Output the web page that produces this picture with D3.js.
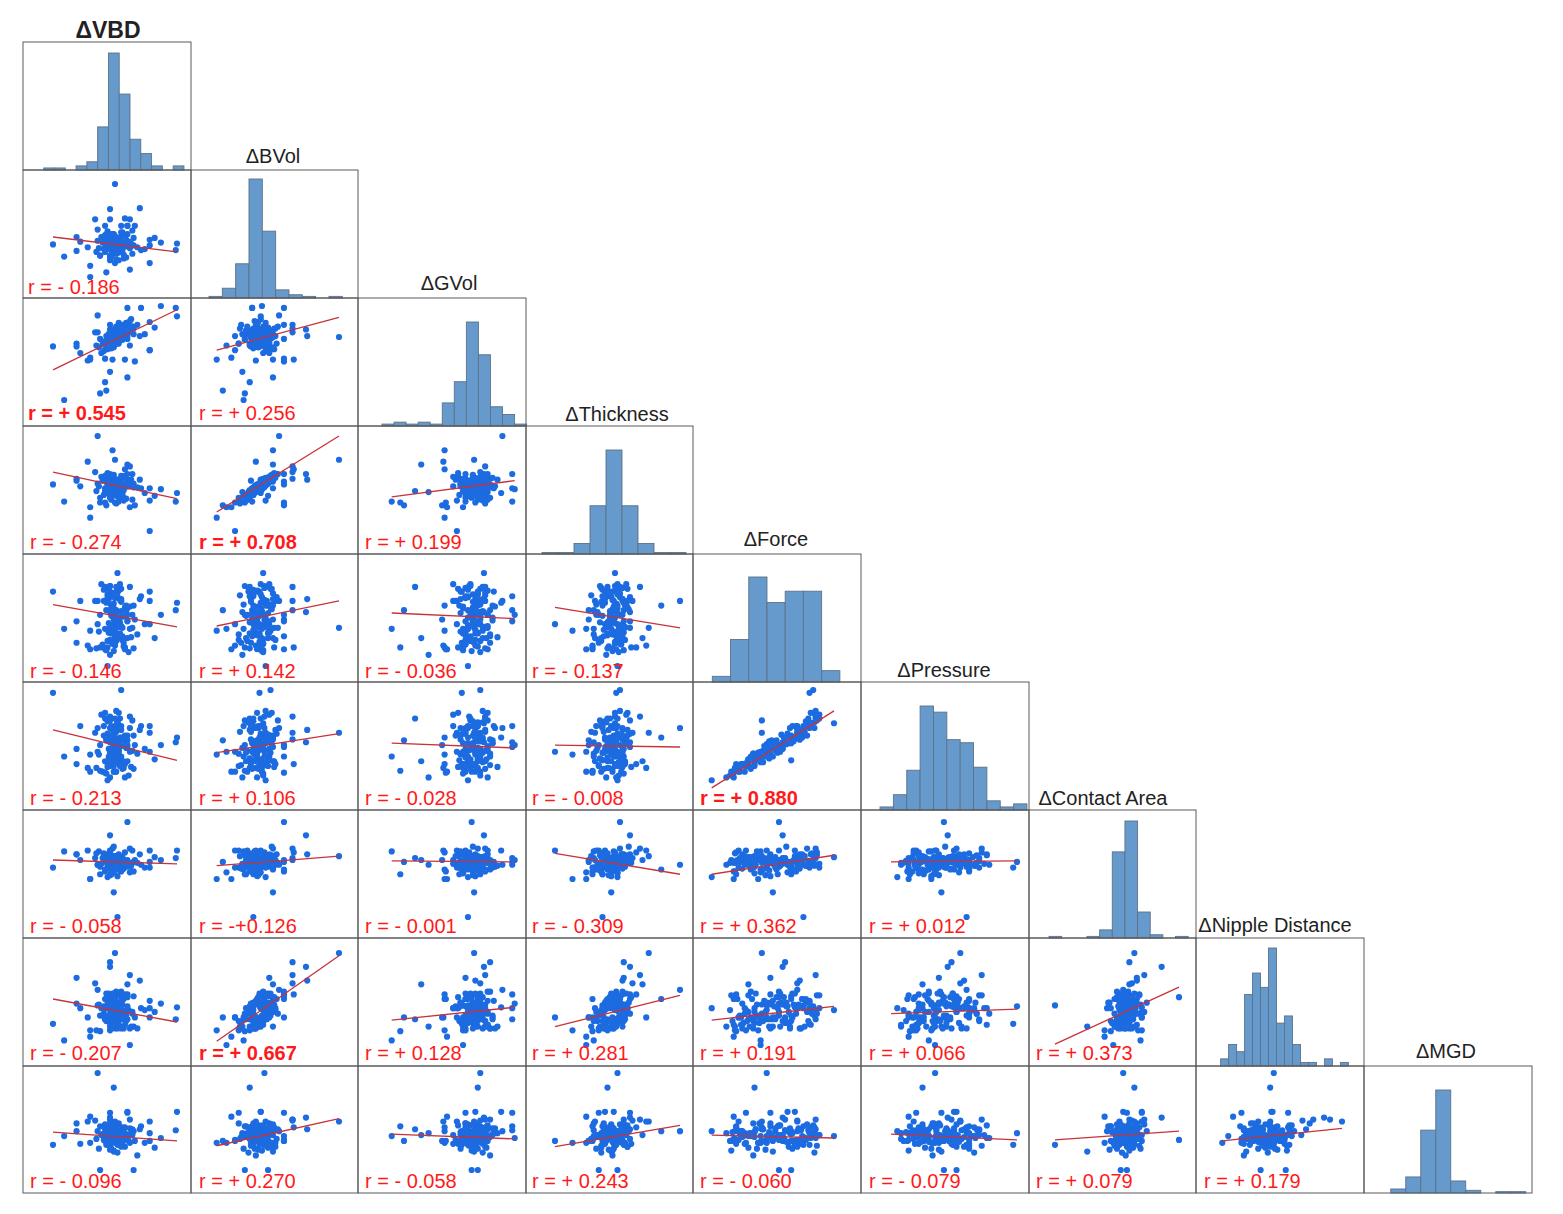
<!DOCTYPE html>
<html><head><meta charset="utf-8">
<script src="https://cdn.jsdelivr.net/npm/d3@7"></script>
<style>html,body{margin:0;padding:0;background:#fff}svg{display:block}text{font-family:"Liberation Sans",Arial,sans-serif}</style>
</head><body><div id="c"></div>
<script>
const vbd=[50,36,78,0,9,38,43,42,60,46,48,28,87,99,100,60,71,60,46,52,49,46,19,34,36,49,60,46,30,38,65,62,30,19,22,78,82,78,74,66,58,70,62,55,42,44,52,55,47,64,
48,52,45,55,50,42,58,47,53,50,44,56,49,51,46,60,53,41,57,48,50,46,54,49,62,44,52,47,55,39,51,57,43,50,48,53,46,65,52,49,
45,54,50,58,47,41,51,56,48,53,49,63,46,52,44,55,50,37,59,47,52,48,56,43,51,68,49,54,46,50,40,55,47,53,49,57,45,51,61,48,
54,50,44,59,52,46,48,35,53,50,47,56,51,42,55,49,64,50,45,52];
const gvol=[67,90,53,57,0,7,10,19,24,30,43,42,100,98,89,98,98,65,75,62,67,80,60,72,72,70,68,60,45,65,70,58,43,57,50,53,77,83,70,41,43,68,76,80,44,62,75,72,55,78,
58,72,60,74,66,54,78,70,62,64,66,76,58,72,63,82,60,52,70,68,74,56,70,65,84,60,64,72,78,50,62,80,68,60,70,66,62,76,74,56,
70,72,68,66,58,62,78,68,60,76,72,86,64,68,54,74,60,56,82,66,70,62,72,58,76,80,66,64,68,72,60,66,74,78,64,74,56,70,72,58,
68,76,64,70,60,66,72,58,82,62,68,64,74,62,76,60,78,70,70,66];
const bvol=[100,51,15,35,22,23,5,27,46,21,46,32,37,29,36,55,29,55,73,30,46,62,43,62,39,27,36,18,12,23,42,8,0,28,38,40,42,34,30,55,63,74,62,55,55,40,38,44,30,50,
38,31,42,28,35,45,33,22,40,36,30,47,36,25,39,33,18,41,35,29,44,34,27,37,31,49,38,24,32,43,36,20,40,33,46,29,37,34,26,42,
32,39,15,44,35,30,38,48,27,34,41,36,23,33,47,37,28,31,40,35,26,43,34,38,19,32,45,36,30,39,37,28,41,33,35,24,46,31,38,34,
42,30,36,21,39,34,44,27,33,37,35,29,40,32,48,38,25,36,43,31];
const thickness=[75,100,0,49,31,30,27,42,70,41,85,73,44,31,40,60,45,52,60,38,45,55,55,62,50,42,47,35,25,35,50,25,14,53,47,32,37,45,40,27,65,54,68,49,30,50,48,52,38,60,
52,46,55,40,44,58,49,33,48,53,40,56,50,37,48,47,31,54,43,45,54,49,36,46,47,60,53,38,41,57,47,35,55,42,52,44,51,46,37,50,
48,46,30,58,50,38,54,56,43,42,49,54,36,45,61,44,39,47,56,48,41,52,44,55,29,46,59,50,39,47,53,37,56,48,45,32,54,42,51,49,
51,44,49,34,54,43,57,42,46,52,46,39,52,45,58,48,33,50,53,43];
const nipple=[100,60,30,23,5,15,30,28,66,20,50,30,45,28,41,55,40,52,85,43,20,90,73,67,43,40,42,16,9,32,53,0,16,45,40,40,36,48,38,30,55,70,76,58,50,40,38,42,26,34,
30,44,56,18,46,40,22,30,28,54,46,44,24,34,54,28,26,42,50,20,32,46,20,54,18,50,26,40,48,40,24,18,56,50,36,42,30,20,38,46,
28,44,30,36,24,34,58,38,42,26,44,20,34,46,52,52,18,44,32,24,40,36,52,26,20,18,46,54,24,48,32,34,28,22,56,28,42,44,38,20,
36,26,40,26,32,46,56,16,30,50,42,30,34,28,40,22,36,50,30,18];
const force=[41,70,45,80,40,20,60,85,30,12,65,22,55,60,68,48,75,55,58,75,50,60,48,70,45,35,62,28,18,55,65,40,38,25,70,70,30,80,45,50,20,72,85,32,18,0,100,83,65,41,
24,58,36,72,45,83,18,66,52,30,77,41,62,27,86,49,34,70,21,56,38,80,47,16,64,74,29,54,43,88,60,25,68,33,78,51,40,19,84,57,
46,71,22,63,35,82,55,28,75,42,67,31,86,48,20,59,73,37,65,26,80,44,53,17,76,34,61,88,39,50,23,69,42,81,56,30,72,47,15,64,
35,79,27,58,84,44,66,19,52,74,61,32,85,40,70,24,55,77,36,48];
const pressure=[55,60,35,97,30,15,47,70,25,8,50,18,42,45,50,40,62,42,45,60,40,48,38,55,35,25,52,20,14,42,52,35,32,22,62,55,27,62,38,42,22,58,72,30,13,5,65,100,26,68,
22,38,30,48,43,76,8,62,36,27,67,25,54,14,72,47,33,52,18,35,34,60,28,14,60,54,24,34,41,74,44,21,49,29,52,44,24,17,66,53,
38,50,14,52,22,62,39,22,58,36,46,19,68,32,19,50,56,32,44,22,66,30,47,12,56,33,43,70,34,30,14,62,24,76,37,25,48,46,10,44,
20,70,22,39,60,38,49,18,44,50,50,17,78,25,58,20,36,62,26,41];
const contact=[64,55,70,52,69,45,58,62,60,55,50,70,60,62,70,58,55,100,86,0,26,60,66,62,55,64,55,70,40,53,58,47,40,66,60,52,63,58,52,60,68,66,72,50,48,42,63,58,45,57,
58,62,55,60,52,65,57,50,63,59,54,61,47,56,68,58,52,64,60,55,63,57,49,60,53,66,58,45,62,56,59,51,64,55,72,57,61,48,54,60,
56,63,52,58,46,67,59,55,61,50,60,54,65,43,57,62,56,69,53,58,55,61,50,59,64,57,74,52,60,56,62,48,58,66,54,60,51,63,57,55,
53,59,64,56,61,44,58,67,52,60,57,63,55,50,60,58,70,54,59,62];
const mgd=[50,40,30,26,35,45,30,42,36,38,40,50,33,41,60,59,45,31,54,26,19,52,48,51,100,85,60,59,55,0,0,28,28,40,27,50,23,38,28,30,44,42,52,35,30,40,35,38,30,42,
38,30,42,27,35,46,32,22,40,36,33,44,29,38,25,36,48,31,41,34,28,39,35,20,43,32,37,45,30,36,41,34,26,38,47,33,29,40,18,36,
35,43,31,24,39,37,46,28,34,42,30,38,36,45,27,33,41,22,37,35,44,29,34,39,32,15,40,36,48,31,37,25,42,33,46,35,28,39,30,38,
34,41,27,36,44,21,38,32,43,35,29,37,33,47,24,40,36,31,42,34];

const names=["ΔVBD","ΔBVol","ΔGVol","ΔThickness","ΔForce","ΔPressure","ΔContact Area","ΔNipple Distance","ΔMGD"];
const series=[vbd,bvol,gvol,thickness,force,pressure,contact,nipple,mgd];

// Histogram bin counts, first bin edge and bin width per variable
const histCounts=[[1,1,0,2,4,21,57,37,15,8,2,0,2],[1,6,21,73,41,5,2,1,0,1],[1,2,1,2,1,12,23,54,37,10,6,1],[1,1,7,32,69,32,7,1,1],[2,15,37,28,32,32,4],[1,5,13,34,32,23,22,14,3,1,2],[1,0,0,1,5,53,72,16,2,0,1],[2,6,4,20,26,22,33,12,14,6,1,1,0,2,0,1],[3,12,47,77,9,2,0,1,1]];
const histStart=[-7.5,-6.3,-7.9,-10.4,0.5,-8.7,-4.8,-1.4,-5];
const histWidth=[8.7,10.9,9.8,12.8,14.9,10.6,10.2,6.67,12];

// Correlation labels, row by row, below the diagonal
const rLabels=[["r = - 0.186"],["r = + 0.545","r = + 0.256"],["r = - 0.274","r = + 0.708","r = + 0.199"],["r = - 0.146","r = + 0.142","r = - 0.036","r = - 0.137"],["r = - 0.213","r = + 0.106","r = - 0.028","r = - 0.008","r = + 0.880"],["r = - 0.058","r = -+0.126","r = - 0.001","r = - 0.309","r = + 0.362","r = + 0.012"],["r = - 0.207","r = + 0.667","r = + 0.128","r = + 0.281","r = + 0.191","r = + 0.066","r = + 0.373"],["r = - 0.096","r = + 0.270","r = - 0.058","r = + 0.243","r = - 0.060","r = - 0.079","r = + 0.079","r = + 0.179"]];
const boldLabels=["r = + 0.545","r = + 0.708","r = + 0.880","r = + 0.667"];
// Fitted line heights at the smallest and largest x, on the normalised scale
const fitStart=[[43],[32,53],[62,20,36],[66,43,57,63],[58,34,44,42,-3],[60,54,59,67,45,58],[50,4,27,20,27,34,1],[39,25,37,24,36,37,31,30]];
const fitEnd=[[27],[96,88],[34,100,53],[42,70,51,41],[26,54,39,40,78],[56,64,58,45,65,59],[25,97,41,54,42,39,63],[30,53,32,46,33,31,40,43]];

// Layout
const colEdges=[23,191,358,526,693,861,1029,1196,1364,1532];
const rowEdges=[42,170,298,426,554,682,810,938,1066,1193];
const xRanges=[[53,177],[216.7,339],[391.7,514.7],[555,680],[711.7,834],[891,1017],[1055,1179],[1222.3,1342],[1397,1522]];
const yRanges=[null,[277,184],[400,306],[531,436],[666,573],[785,690],[917,822],[1045,953],[1170,1073]];
const histTops=[53,179,322,450,577,706,821,948,1090];
const titleCx=[108,273,449,617,776,944,1103,1275,1446];
const titleY=[38,163,290,421,546,677,805,932,1058];
const labelY=[294,420,549,678,805,933,1060,1188];
const labelX=[30,199,365,532,700,869,1036,1204];

const svg=d3.select("#c").append("svg").attr("width",1563).attr("height",1214);
const xs=xRanges.map(r=>d3.scaleLinear().domain([0,100]).range(r));
const ys=yRanges.map(r=>r?d3.scaleLinear().domain([0,100]).range(r):null);
const border="#5a5a5a";

names.forEach((name,i)=>{
  const g=svg.append("g").attr("class","hist");
  const h=d3.scaleLinear().domain([0,d3.max(histCounts[i])]).range([rowEdges[i+1],histTops[i]]);
  g.selectAll("rect").data(histCounts[i]).join("rect")
    .attr("x",(d,k)=>xs[i](histStart[i]+k*histWidth[i]))
    .attr("width",xs[i](histWidth[i])-xs[i](0))
    .attr("y",d=>h(d)).attr("height",d=>rowEdges[i+1]-h(d))
    .attr("fill","#6699cc").attr("stroke","#5d7288").attr("stroke-width",0.9);
  svg.append("rect").attr("x",colEdges[i]).attr("y",rowEdges[i]).attr("width",colEdges[i+1]-colEdges[i]).attr("height",rowEdges[i+1]-rowEdges[i])
    .attr("fill","none").attr("stroke",border).attr("stroke-width",1);
  svg.append("text").attr("x",titleCx[i]).attr("y",titleY[i]).attr("text-anchor","middle")
    .attr("font-size",i===0?23:20).attr("font-weight",i===0?"bold":"normal").attr("fill","#222").text(name);
});

rLabels.forEach((labels,ri)=>{
  const row=ri+1;
  labels.forEach((lab,col)=>{
    const g=svg.append("g").attr("class","scatter");
    g.append("rect").attr("x",colEdges[col]).attr("y",rowEdges[row]).attr("width",colEdges[col+1]-colEdges[col]).attr("height",rowEdges[row+1]-rowEdges[row])
      .attr("fill","none").attr("stroke",border).attr("stroke-width",1);
    g.selectAll("circle").data(d3.range(series[col].length)).join("circle")
      .attr("cx",k=>xs[col](series[col][k])).attr("cy",k=>ys[row](series[row][k])).attr("r",3.1).attr("fill","#1c6be0");
    g.append("line").attr("x1",xs[col](0)).attr("x2",xs[col](100))
      .attr("y1",ys[row](fitStart[ri][col])).attr("y2",ys[row](fitEnd[ri][col]))
      .attr("stroke","#c8323a").attr("stroke-width",1.3);
    const bold=boldLabels.includes(lab);
    g.append("text").attr("x",(col===0&&row<=2)?28:labelX[col]).attr("y",labelY[ri]).attr("font-size",20)
      .attr("font-weight",bold?"bold":"normal").attr("fill","#ff1a1a").text(lab);
  });
});
</script></body></html>
